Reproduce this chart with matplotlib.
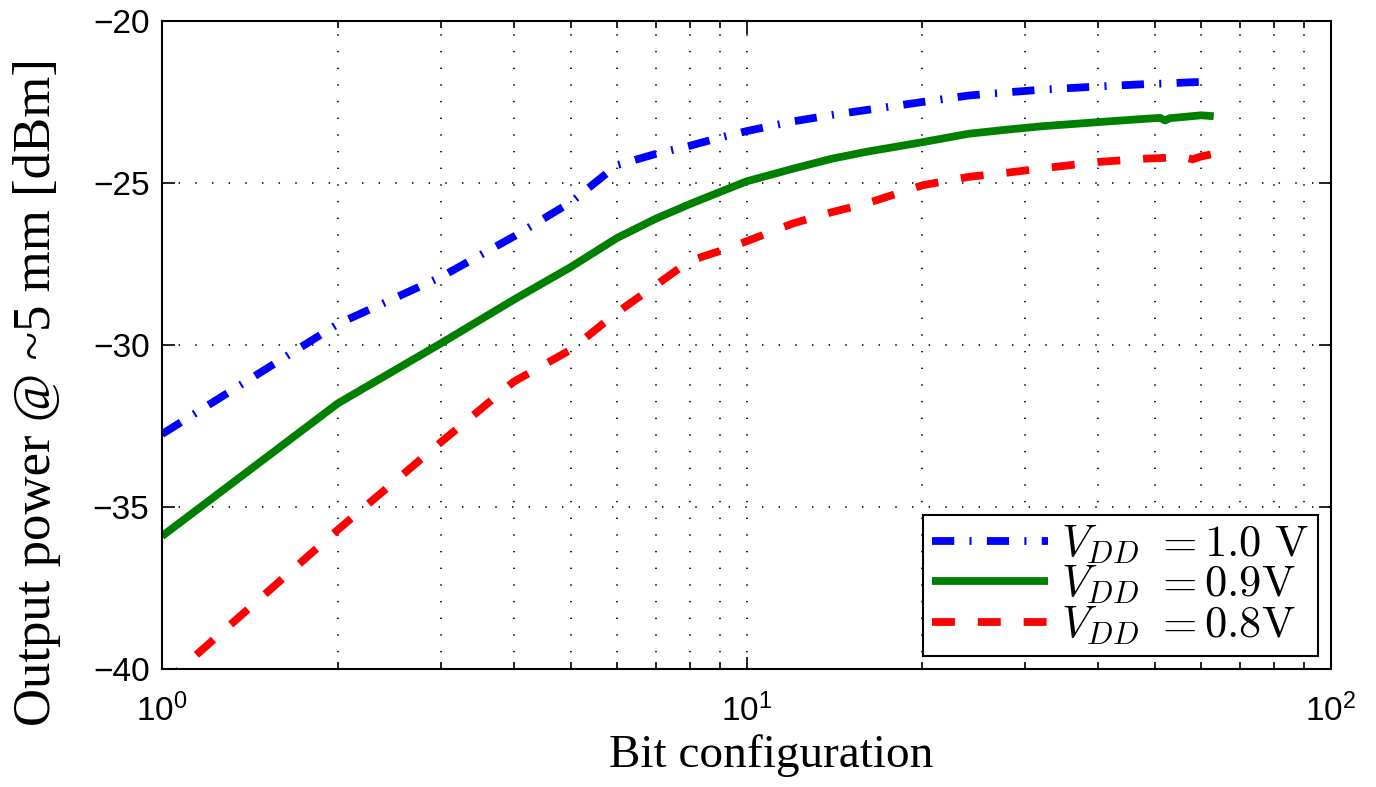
import matplotlib
matplotlib.use("Agg")
import matplotlib.pyplot as plt
from matplotlib.ticker import LogLocator, FixedLocator, NullFormatter

# values (bit configuration vs output power in dBm)
x_10 = [1, 2, 3, 4, 5, 6, 7, 8, 9, 10, 12, 14, 16, 20, 24, 28, 32, 40, 48, 52, 56, 60, 63]
p_10 = [-32.75, -29.35, -27.9, -26.65, -25.6, -24.45, -24.1, -23.85, -23.6, -23.4,
        -23.1, -22.9, -22.75, -22.5, -22.3, -22.2, -22.12, -22.02, -21.95, -21.93,
        -21.9, -21.88, -21.9]

x_09 = [1, 2, 3, 4, 5, 6, 7, 8, 9, 10, 12, 14, 16, 20, 24, 28, 32, 40, 48, 51, 52, 53,
        56, 60, 63]
p_09 = [-35.9, -31.8, -29.95, -28.6, -27.6, -26.7, -26.1, -25.65, -25.28, -24.95,
        -24.56, -24.25, -24.04, -23.74, -23.48, -23.35, -23.25, -23.12, -23.02, -22.99,
        -23.07, -23.0, -22.96, -22.91, -22.94]

x_08 = [1, 2, 3, 4, 5, 6, 7, 8, 9, 10, 12, 14, 16, 20, 24, 28, 32, 40, 48, 56, 58, 60, 63]
p_08 = [-40.5, -35.7, -33.0, -31.13, -30.15, -29.0, -28.15, -27.4, -27.1, -26.8,
        -26.25, -25.9, -25.64, -25.07, -24.81, -24.68, -24.55, -24.35, -24.25, -24.2,
        -24.27, -24.18, -24.1]

labels = [r'$V_{DD}\ =1.0\ \mathrm{V}$',
          r'$V_{DD}\ =0.9\mathrm{V}$',
          r'$V_{DD}\ =0.8\mathrm{V}$']
y_ticks = [-40, -35, -30, -25, -20]

plt.rcParams['font.family'] = ['Liberation Sans', 'DejaVu Sans']
plt.rcParams['mathtext.fontset'] = 'cm'
plt.rcParams['lines.scale_dashes'] = False

fig = plt.figure(figsize=(13.76, 7.87), dpi=100)
ax = fig.add_axes([162/1376, 1 - 669/787, (1331-162)/1376, (669-21)/787])

lw = 5.6
ax.plot(x_10, p_10, color=(0, 0, 1), lw=lw, dashes=(16, 11, 1.5, 11),
        dash_capstyle='butt', label=labels[0])
ax.plot(x_09, p_09, color=(0, 0.5, 0), lw=lw, solid_capstyle='butt',
        label=labels[1])
ax.plot(x_08, p_08, color=(1, 0, 0), lw=lw, dashes=(16.5, 16.5),
        dash_capstyle='butt', label=labels[2])

ax.set_xscale('log')
ax.set_xlim(1, 100)
ax.set_ylim(-40, -20)
ax.yaxis.set_major_locator(FixedLocator(y_ticks))
ax.xaxis.set_major_locator(LogLocator(base=10, numticks=5))
ax.xaxis.set_minor_locator(LogLocator(base=10, subs=range(2, 10), numticks=20))
ax.xaxis.set_minor_formatter(NullFormatter())

ax.grid(True, which='major', color='k', linestyle=(0, (1, 11)), linewidth=1.2)
ax.grid(True, which='minor', axis='x', color='k', linestyle=(0, (1, 11)), linewidth=1.2)

ax.tick_params(which='both', direction='in', top=True, right=True, labelsize=24,
               width=1.2)
ax.tick_params(which='major', length=9)
ax.tick_params(which='minor', length=5)
ax.tick_params(axis='y', pad=9)
ax.tick_params(axis='x', pad=18)
for s in ax.spines.values():
    s.set_linewidth(1.5)

ax.set_xlabel('Bit configuration', family=['Liberation Serif'], fontsize=34)
ax.set_ylabel('Output power @ ~5 mm [dBm]', family=['Liberation Serif'], fontsize=38)
ax.xaxis.set_label_coords(0.521, -0.1)
ax.yaxis.set_label_coords(-0.086, 0.427)

leg = ax.legend(loc='lower right', fontsize=32, handlelength=2.6, labelspacing=-0.05,
                borderaxespad=0.3, borderpad=0.2, handletextpad=0.3,
                fancybox=False, framealpha=1, edgecolor='k')
leg.get_frame().set_linewidth(1.5)

fig.savefig('out.png', dpi=100)
